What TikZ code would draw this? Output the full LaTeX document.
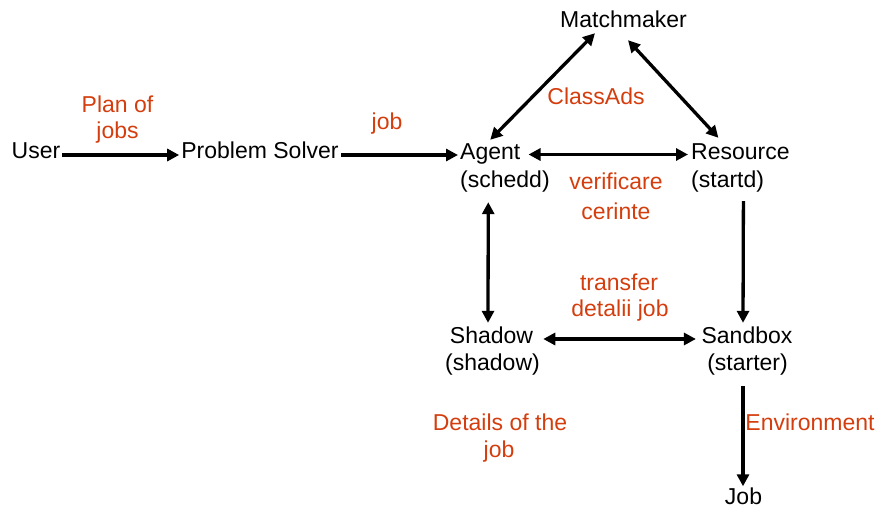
\documentclass[tikz,border=0pt]{standalone}
\usepackage{fontspec}
\setmainfont{Liberation Sans}
\usetikzlibrary{arrows.meta,calc}
\definecolor{lblred}{RGB}{212,62,14}
\begin{document}
\begin{tikzpicture}[x=1pt,y=-1pt,
  ent/.style={font=\fontsize{23}{27}\selectfont, inner sep=2pt, text height=17pt, text depth=5pt, anchor=base},
  entw/.style={ent, anchor=base west},
  lbl/.style={font=\fontsize{23}{27}\selectfont, text=lblred, inner sep=0pt, anchor=base},
  arr/.style={line width=3.3pt, -{Triangle[length=12pt,width=12pt]}},
  darr/.style={line width=3.3pt, {Triangle[length=12pt,width=12pt]}-{Triangle[length=12pt,width=12pt]}}
]
\useasboundingbox (0,0) rectangle (877,508);

% entities
\node[ent] (user) at (36,158) {User};
\node[ent] (ps) at (260,158) {Problem Solver};
\node[entw] (agent) at (458,159) {Agent};
\node[entw] (agents) at (458,187) {(schedd)};
\node[entw] (resource) at (689,159) {Resource};
\node[entw] (resources) at (689,187) {(startd)};
\node[ent] (mm) at (623.5,28) {Matchmaker};
\node[ent] (shadow) at (491.5,343) {Shadow};
\node[ent] (shadows) at (492.5,370) {(shadow)};
\node[ent] (sandbox) at (747,343) {Sandbox};
\node[ent] (sandboxs) at (747.5,370) {(starter)};
\node[ent, text depth=0pt, inner sep=1pt] (job) at (743.5,504.5) {Job};

% labels
\node[lbl] (plana) at (117.5,113) {Plan of};
\node[lbl] (planb) at (117.5,139) {jobs};
\node[lbl] (joblbl) at (387,129) {job};
\node[lbl] (classads) at (596,105) {ClassAds};
\node[lbl] (verifa) at (616,189) {verificare};
\node[lbl] (verifb) at (616,219) {cerinte};
\node[lbl] (transa) at (619,290) {transfer};
\node[lbl] (transb) at (620,316) {detalii job};
\node[lbl] (deta) at (500,430) {Details of the};
\node[lbl] (detb) at (499,457) {job};
\node[lbl] (env) at (810,430) {Environment};

% connectors
\draw[arr] ([yshift=-3pt]user.east) -- ([yshift=-3pt]ps.west);
\draw[arr] ([yshift=-3pt]ps.east) -- ([yshift=-3pt]ps.east -| agent.west);
\draw[darr] ($(agent.east)+(6,1.5)$) -- ($(agent.east -| resource.west)+(-1,1.5)$);
\draw[darr] (agent.north) -- ($(mm.south)+(-28.5,-2)$);
\draw[darr] ($(mm.south)+(4.5,5)$) -- ($(resource.north)+(-22,-2)$);
\draw[darr] ($(agent.south |- agents.south)+(-2,8)$) -- ($(shadow.north)+(-3.5,-1)$);
\draw[arr] ($(resource.south |- resources.south)+(3,7)$) -- ($(sandbox.north)+(-4,-1)$);
\draw[darr] ($(shadow.east)+(8,2)$) -- ($(sandbox.west)+(-3.5,2)$);
\draw[arr] ($(sandboxs.south)+(-4.5,9)$) -- ($(job.north)+(-0.5,0)$);
\end{tikzpicture}
\end{document}
